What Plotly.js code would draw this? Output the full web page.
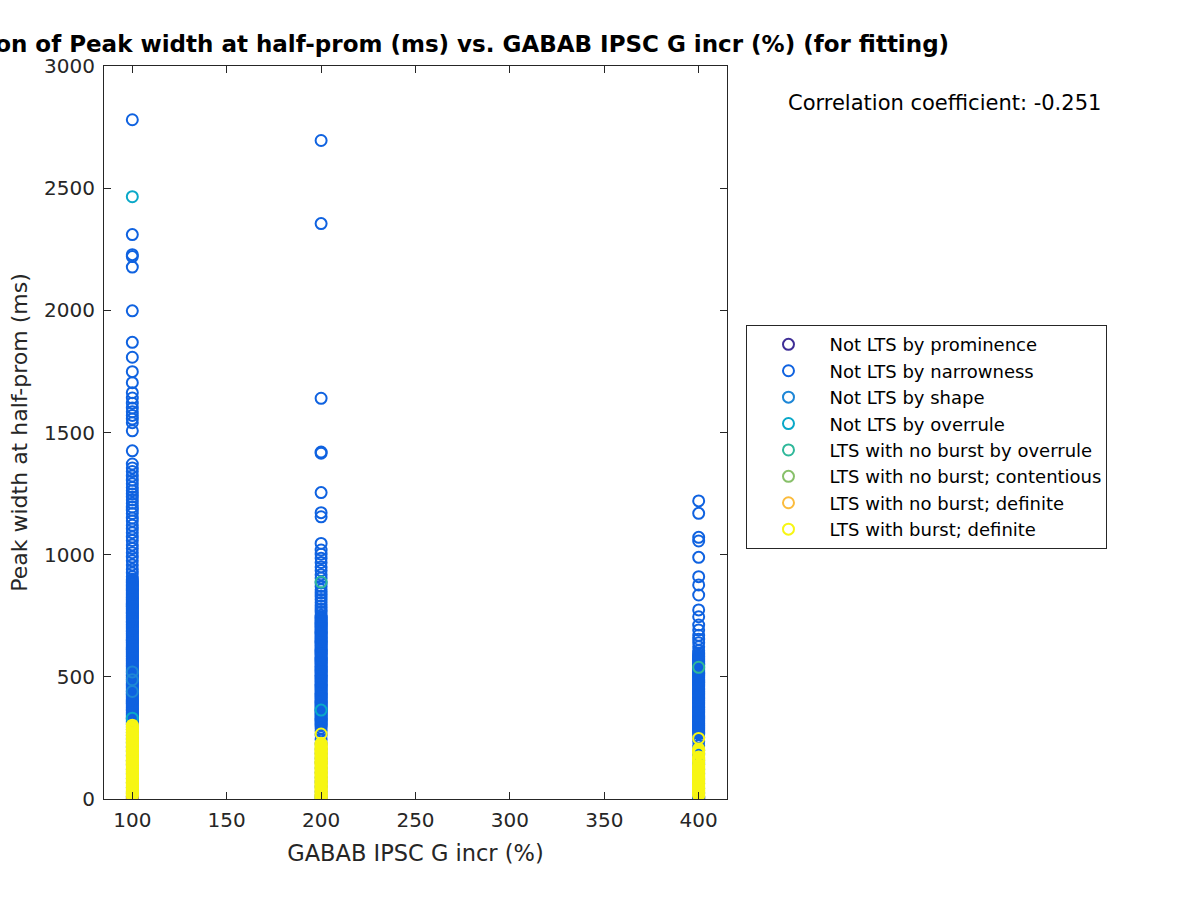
<!DOCTYPE html>
<html>
<head>
<meta charset="utf-8">
<script src="https://cdn.plot.ly/plotly-3.0.1.min.js"></script>
<style>html,body{margin:0;padding:0;background:#fff;}#chart{width:1200px;height:900px;}</style>
</head>
<body>
<div id="chart"></div>
<script>
// ---- data ----
var groupX = [100, 200, 400];
var categoryNames = [
  "Not LTS by prominence",
  "Not LTS by narrowness",
  "Not LTS by shape",
  "Not LTS by overrule",
  "LTS with no burst by overrule",
  "LTS with no burst; contentious",
  "LTS with no burst; definite",
  "LTS with burst; definite"
];
var categoryColors = ["#3f2e96", "#0f62e0", "#1d86d6", "#0aa8c8", "#2fb89a", "#88c06a", "#fbbb3c", "#f7f614"];

// y values (ms) per category, per group (x = 100, 200, 400)
var prominence100 = [];
var prominence200 = [];
var prominence400 = [3, 8];

var narrowness100 = [2780, 2310, 2228, 2220, 2177, 1998, 1869, 1808, 1749, 1704, 1663, 1641, 1620, 1600, 1585, 1570, 1555, 1540, 1507, 1425,
  1371, 1355, 1340, 1322, 1305, 1290, 1275, 1262, 1248, 1236, 1224, 1210, 1195, 1182, 1168, 1150, 1138, 1120, 1105, 1090,
  1072, 1058, 1040, 1025, 1008, 990, 975, 958, 940, 925, 910, 899, 894, 889, 884, 879, 874, 870, 865, 861, 856, 851, 846, 841, 837, 832, 827, 822, 817, 813, 808, 803, 798, 794,
  789, 785, 780, 776, 771, 766, 761, 757, 752, 748, 743, 739, 734, 729, 725, 720, 715, 711, 706, 702, 697, 692, 688, 683, 678, 674, 669, 664, 660, 655, 650, 646, 641, 637, 632, 628, 623, 618, 613, 609, 604, 600, 595, 591, 586, 581, 576, 572,
  567, 563, 558, 554, 549, 545, 540, 535, 530, 526, 521, 517, 512, 508, 503, 498, 494, 489, 484, 480, 475, 471, 466, 461, 456, 452, 447, 443, 438, 434, 429, 425, 420, 415, 410, 406, 401, 397, 392, 388, 383, 378, 374, 369, 364, 360, 355, 351,
  346, 342, 337, 332, 327, 323, 318, 314, 309, 305, 295, 284, 272, 260, 245, 229, 212, 195, 176, 158, 139, 121, 103, 84, 66, 47, 29, 11, 2];
var narrowness200 = [2695, 2355, 1640, 1420, 1415, 1254, 1172, 1155, 1046, 1019, 1002, 985, 968, 950, 935, 918, 905, 884, 870,
  856, 843, 830, 817, 804, 790, 777, 765, 752, 744, 740, 735, 730, 726, 721, 716, 712, 707, 703, 698, 693, 689, 684, 679, 675, 670, 665, 661, 656, 652, 647, 642, 638, 633, 628, 624,
  619, 615, 610, 605, 601, 596, 592, 587, 582, 578, 573, 568, 564, 559, 555, 550, 545, 541, 536, 531, 527, 522, 518, 513, 508, 504, 499, 494, 490, 485, 481, 476, 471, 467, 462, 457, 453, 448, 444, 439, 434, 430, 425, 420, 416, 411,
  407, 402, 397, 393, 388, 383, 379, 374, 370, 365, 360, 356, 351, 346, 342, 337, 333, 328, 323, 319, 314, 309, 305, 300, 290, 279, 262, 244, 225, 205, 186, 166, 147, 127, 108,
  88, 69, 49, 30, 12, 3];
var narrowness400 = [1220, 1169, 1071, 1056, 989, 910, 876, 835, 774, 746, 712, 692, 670, 654, 640, 623, 607, 597, 589, 584, 580,
  575, 571, 566, 562, 557, 552, 548, 543, 538, 534, 529, 525, 520, 515, 511, 506, 502, 497, 492, 488, 483, 478, 474, 469, 465, 460, 455, 451, 446, 441, 437, 432, 428, 423, 418, 414, 409, 404, 400, 395, 391, 386, 381, 377, 372, 367,
  363, 358, 354, 349, 344, 340, 335, 330, 326, 321, 317, 312, 307, 303, 298, 293, 289, 284, 280, 275, 270, 266, 252, 236, 218, 199, 180, 160, 141, 121, 102, 82, 63, 43, 24,
  10, 0];

var shape100 = [520, 488, 440];
var shape200 = [];
var shape400 = [];

var overrule100 = [2465, 331];
var overrule200 = [364];
var overrule400 = [186, 147];

var noBurstOverrule100 = [];
var noBurstOverrule200 = [888];
var noBurstOverrule400 = [539];

var contentious100 = [];
var contentious200 = [];
var contentious400 = [];

var noBurstDefinite100 = [8, 22];
var noBurstDefinite200 = [];
var noBurstDefinite400 = [];

var burst100 = [302, 297, 292, 287, 282, 277, 272, 267, 262, 257, 252, 246, 240, 236, 232, 228, 224, 219, 214, 210, 205, 200, 196, 191,
  187, 182, 178, 173, 169, 164, 160, 155, 151, 146, 142, 137, 133, 128, 124, 119, 115, 110, 106, 101, 97, 92, 88, 83,
  79, 74, 70, 65, 61, 56, 52, 47, 43, 38, 34, 29, 25, 20, 16];
var burst200 = [266, 228, 224, 219, 214, 210, 206, 201, 197, 192, 188, 183, 179, 174, 170, 165, 161, 156, 152, 147, 143, 138, 134,
  129, 125, 120, 116, 111, 107, 102, 98, 93, 89, 84, 80, 75, 71, 66, 62, 57, 53, 48, 44, 39, 35, 30, 26, 21, 17, 12, 8, 5];
var burst400 = [248, 205, 200, 196, 191, 187, 172, 167, 163, 158, 154, 140, 135, 131, 126, 122, 117, 113, 108, 104, 99, 95, 90,
  86, 81, 77, 72, 68, 63, 59, 54, 50, 45, 41, 36, 32, 27, 23, 18, 14];

var seriesY = [
  [prominence100, prominence200, prominence400],
  [narrowness100, narrowness200, narrowness400],
  [shape100, shape200, shape400],
  [overrule100, overrule200, overrule400],
  [noBurstOverrule100, noBurstOverrule200, noBurstOverrule400],
  [contentious100, contentious200, contentious400],
  [noBurstDefinite100, noBurstDefinite200, noBurstDefinite400],
  [burst100, burst200, burst400]
];
var correlationText = "Correlation coefficient: -0.251";

// ---- build traces ----
var traces = categoryNames.map(function (name, i) {
  var xs = [], ys = [];
  seriesY[i].forEach(function (arr, g) {
    arr.forEach(function (v) { xs.push(groupX[g]); ys.push(v); });
  });
  if (xs.length === 0) { xs = [null]; ys = [null]; }
  return {
    type: "scatter", mode: "markers", name: name,
    x: xs, y: ys,
    marker: { symbol: "circle-open", size: 11, color: categoryColors[i], line: { width: 2, color: categoryColors[i] } },
    cliponaxis: true
  };
});

var axisCommon = {
  showgrid: false, zeroline: false, showline: true, linecolor: "#262626", linewidth: 1,
  mirror: "ticks", ticks: "inside", ticklen: 7, tickcolor: "#262626",
  tickfont: { family: "DejaVu Sans", size: 20, color: "#262626" }
};

var L = 104, R = 727.5, T = 65.5, B = 799.5;
var PW = R - L, PH = B - T;

var layout = {
  width: 1200, height: 900,
  paper_bgcolor: "#fff", plot_bgcolor: "#fff",
  margin: { l: L, r: 1200 - R, t: T, b: 900 - B },
  font: { family: "DejaVu Sans", color: "#262626" },
  title: {
    text: "<b>Correlation of Peak width at half-prom (ms) vs. GABAB IPSC G incr (%) (for fitting)</b>",
    font: { family: "DejaVu Sans", size: 23, color: "#000" },
    x: 0.5, xref: "paper", xanchor: "center",
    y: 1 - 44 / 900, yref: "container", yanchor: "middle"
  },
  xaxis: Object.assign({}, axisCommon, {
    range: [85, 415], tickvals: [100, 150, 200, 250, 300, 350, 400], ticklabelstandoff: 3,
    title: { text: "GABAB IPSC G incr (%)", font: { family: "DejaVu Sans", size: 22.5, color: "#262626" }, standoff: 14 }
  }),
  yaxis: Object.assign({}, axisCommon, {
    range: [0, 3000], tickvals: [0, 500, 1000, 1500, 2000, 2500, 3000], ticklabelstandoff: 4,
    title: { text: "Peak width at half-prom (ms)", font: { family: "DejaVu Sans", size: 22, color: "#262626" }, standoff: 10 }
  }),
  showlegend: true,
  legend: {
    x: (747 - L) / PW, y: (B - 325) / PH, xanchor: "left", yanchor: "top",
    xref: "paper", yref: "paper",
    bgcolor: "#fff", bordercolor: "#262626", borderwidth: 1,
    font: { family: "DejaVu Sans", size: 18, color: "#000" },
    tracegroupgap: 0, itemwidth: 72
  },
  annotations: [{
    text: correlationText, xref: "paper", yref: "paper",
    x: (945 - L) / PW, y: (B - 103) / PH, xanchor: "center", yanchor: "middle",
    showarrow: false, font: { family: "DejaVu Sans", size: 21, color: "#000" }
  }]
};

Plotly.newPlot("chart", traces, layout, { displayModeBar: false, staticPlot: true });
</script>
</body>
</html>
